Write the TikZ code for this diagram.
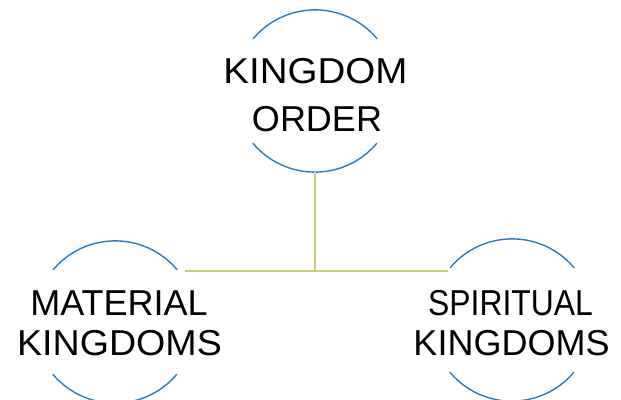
\documentclass[tikz,border=0pt]{standalone}
\usepackage{fontspec}
\setmainfont{Liberation Sans}
\usepackage{graphicx}
\definecolor{ringblue}{RGB}{35,125,200}
\definecolor{connline}{RGB}{205,205,120}
\begin{document}
\begin{tikzpicture}[x=1pt,y=1pt,
  ring/.style={circle,draw=none,minimum size=162pt,inner sep=0pt},
  ringarc/.style={draw=ringblue,line width=1.4pt},
  conn/.style={draw=connline,line width=2pt},
  lbl/.style={anchor=base,inner sep=0pt,font=\fontsize{36}{36}\selectfont,text=black}]
\useasboundingbox (0,0) rectangle (621,-399);
\fill[white] (0,0) rectangle (621,-399);
% rings
\node[ring] (topc) at (315,-91) {};
\node[ring] (leftc) at (115,-322) {};
\node[ring] (rightc) at (512,-320) {};
\foreach \n in {topc,leftc,rightc}{
  \draw[ringarc] (\n.40) arc[start angle=40,end angle=140,radius=81pt];
  \draw[ringarc] (\n.220) arc[start angle=220,end angle=320,radius=81pt];
}
% labels
\node[lbl] (t1) at (315.5,-83) {\scalebox{1.07}[1]{KINGDOM}};
\node[lbl] (t2) at (317,-131) {ORDER};
\node[lbl] (l1) at (119,-315) {MATERIAL};
\node[lbl] (l2) at (119.5,-355) {\scalebox{1.045}[1]{KINGDOMS}};
\node[lbl] (r1) at (510.5,-315) {\scalebox{0.885}[1]{SPIRITUAL}};
\node[lbl] (r2) at (511.5,-355) {KINGDOMS};
% connectors
\coordinate (j) at (315,-271);
\coordinate (hl) at (185,-271);
\coordinate (hr) at (448,-271);
\draw[conn] (topc.south) -- (j);
\draw[conn] (hl) -- (hr);
\end{tikzpicture}
\end{document}
